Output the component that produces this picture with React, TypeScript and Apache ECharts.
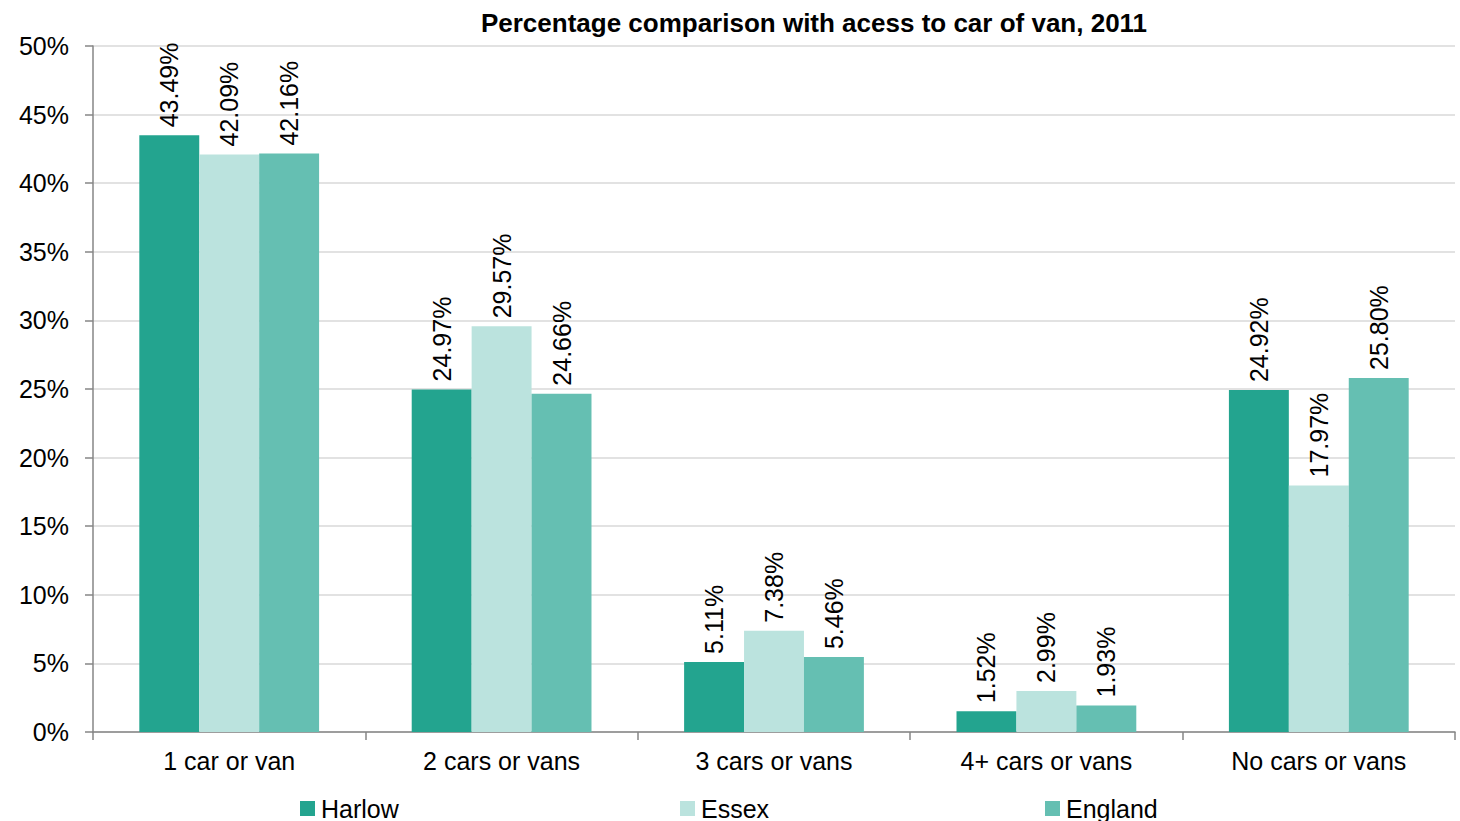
import React, { useEffect, useRef } from "react";
import * as echarts from "echarts";

const categories = ["1 car or van", "2 cars or vans", "3 cars or vans", "4+ cars or vans", "No cars or vans"];
const harlow = [43.49, 24.97, 5.11, 1.52, 24.92];
const essex = [42.09, 29.57, 7.38, 2.99, 17.97];
const england = [42.16, 24.66, 5.46, 1.93, 25.8];
const seriesNames = ["Harlow", "Essex", "England"];
const colors = ["#23A48F", "#BBE3DE", "#65BFB2"];

const FONT = "'Liberation Sans', Arial, sans-serif";

export default function App() {
  const ref = useRef<HTMLDivElement>(null);
  useEffect(() => {
    if (!ref.current) return;
    const chart = echarts.init(ref.current, null, { renderer: "svg" });
    const mk = (name: string, data: number[], color: string) => ({
      name,
      type: "bar",
      data,
      barGap: "0%",
      barCategoryGap: "34%",
      itemStyle: { color },
      label: {
        show: true,
        position: "top",
        rotate: 90,
        align: "left",
        verticalAlign: "middle",
        distance: 8,
        fontFamily: FONT,
        fontSize: 25,
        color: "#000",
        formatter: (p: any) => p.value.toFixed(2) + "%",
      },
    });
    const legendLefts = [300, 680, 1045];
    chart.setOption({
      animation: false,
      textStyle: { fontFamily: FONT },
      title: {
        text: "Percentage comparison with acess to car of van, 2011",
        left: 809,
        textAlign: "center",
        top: 5,
        textStyle: { fontFamily: FONT, fontSize: 26, fontWeight: "bold", color: "#000" },
      },
      legend: seriesNames.map((n, i) => ({
        data: [n],
        left: legendLefts[i],
        top: 796,
        padding: 0,
        icon: "rect",
        itemWidth: 15,
        itemHeight: 15,
        itemGap: 4,
        textStyle: { fontFamily: FONT, fontSize: 25, lineHeight: 24, color: "#000", padding: [0, 0, 0, 1] },
      })),
      grid: { left: 93, right: 5, top: 46, bottom: 89, containLabel: false },
      xAxis: {
        type: "category",
        data: categories,
        axisLine: { lineStyle: { color: "#868686", width: 1.5 } },
        axisTick: { show: true, length: 8, alignWithLabel: false, lineStyle: { color: "#868686", width: 1.5 } },
        axisLabel: { fontFamily: FONT, fontSize: 25, color: "#000", margin: 16 },
      },
      yAxis: {
        type: "value",
        min: 0,
        max: 50,
        interval: 5,
        axisLine: { show: true, lineStyle: { color: "#868686", width: 1.5 } },
        axisTick: { show: true, length: 8, lineStyle: { color: "#868686", width: 1.5 } },
        axisLabel: { fontFamily: FONT, fontSize: 25, color: "#000", margin: 24, formatter: "{value}%" },
        splitLine: { lineStyle: { color: "#D9D9D9", width: 1.5 } },
      },
      series: [mk(seriesNames[0], harlow, colors[0]), mk(seriesNames[1], essex, colors[1]), mk(seriesNames[2], england, colors[2])],
    });
    return () => chart.dispose();
  }, []);
  return (
    <div
      ref={ref}
      style={{ position: "fixed", left: 0, top: 0, width: 1460, height: 821, background: "#fff" }}
    />
  );
}
